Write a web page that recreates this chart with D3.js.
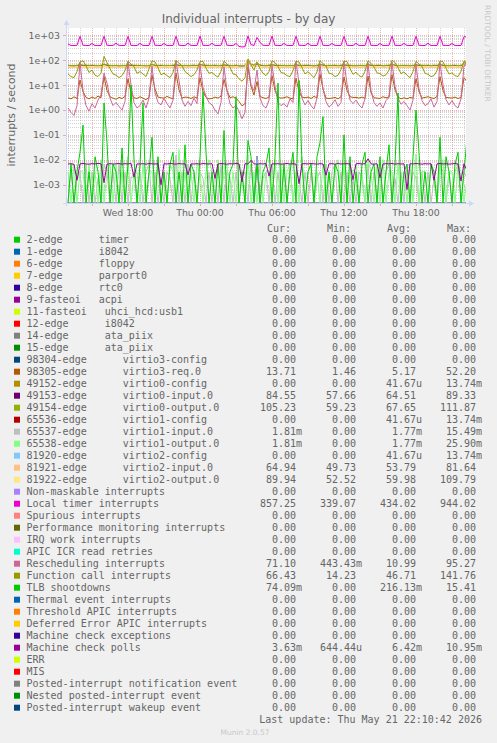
<!DOCTYPE html>
<html><head><meta charset="utf-8">
<script src="https://cdn.jsdelivr.net/npm/d3@7"></script>
<style>
body{margin:0;background:#F0F0F0;}
svg{display:block}
</style></head><body>
<svg id="c" width="497" height="743"></svg>
<script>
// ---------------- DATA ----------------
const legendLabels = [
 "2-edge      timer","1-edge      i8042","6-edge      floppy","7-edge      parport0","8-edge      rtc0",
 "9-fasteoi   acpi","11-fasteoi   uhci_hcd:usb1","12-edge      i8042","14-edge      ata_piix","15-edge      ata_piix",
 "98304-edge      virtio3-config","98305-edge      virtio3-req.0","49152-edge      virtio0-config","49153-edge      virtio0-input.0",
 "49154-edge      virtio0-output.0","65536-edge      virtio1-config","65537-edge      virtio1-input.0","65538-edge      virtio1-output.0",
 "81920-edge      virtio2-config","81921-edge      virtio2-input.0","81922-edge      virtio2-output.0",
 "Non-maskable interrupts","Local timer interrupts","Spurious interrupts","Performance monitoring interrupts",
 "IRQ work interrupts","APIC ICR read retries","Rescheduling interrupts","Function call interrupts","TLB shootdowns",
 "Thermal event interrupts","Threshold APIC interrupts","Deferred Error APIC interrupts","Machine check exceptions",
 "Machine check polls","ERR","MIS","Posted-interrupt notification event","Nested posted-interrupt event","Posted-interrupt wakeup event"
];
const legendColors = [
 "#00CC00","#0066B3","#FF8000","#FFCC00","#330099","#990099","#CCFF00","#FF0000","#808080","#008F00",
 "#00487D","#B35A00","#B38F00","#6B006B","#8FB300","#B30000","#BEBEBE","#80FF80","#80C9FF","#FFC080",
 "#FFE680","#AA80FF","#EE00CC","#FF8080","#666600","#FFBFFF","#00FFCC","#CC6699","#999900","#00CC00",
 "#0066B3","#FF8000","#FFCC00","#330099","#990099","#CCFF00","#FF0000","#808080","#008F00","#00487D"
];
const z = "0.00";
const curVals = [z,z,z,z,z,z,z,z,z,z,z,"13.71",z,"84.55","105.23",z,"1.81m","1.81m",z,"64.94","89.94",z,"857.25",z,z,z,z,"71.10","66.43","74.09m",z,z,z,z,"3.63m",z,z,z,z,z];
const minVals = [z,z,z,z,z,z,z,z,z,z,z,"1.46",z,"57.66","59.23",z,z,z,z,"49.73","52.52",z,"339.07",z,z,z,z,"443.43m","14.23",z,z,z,z,z,"644.44u",z,z,z,z,z];
const avgVals = [z,z,z,z,z,z,z,z,z,z,z,"5.17","41.67u","64.51","67.65","41.67u","1.77m","1.77m","41.67u","53.79","59.98",z,"434.02",z,z,z,z,"10.99","46.71","216.13m",z,z,z,z,"6.42m",z,z,z,z,z];
const maxVals = [z,z,z,z,z,z,z,z,z,z,z,"52.20","13.74m","89.33","111.87","13.74m","15.49m","25.90m","13.74m","81.64","109.79",z,"944.02",z,z,z,z,"95.27","141.76","15.41",z,z,z,z,"10.95m",z,z,z,z,z];

const yTickValues = [1e-3,1e-2,1e-1,1,10,100,1000];
const yTickLabels = ["1e-03","1e-02","1e-01","1e+00","1e+01","1e+02","1e+03"];

// samples every 15 minutes starting Wed 13:00
const localTimer = [
 450,392,388,395,905,398,390,388, 470,390,386,392,910,400,388,392, 480,395,390,388,900,395,387,390,
 475,392,388,390,905,398,392,388, 470,390,392,388,915,400,390,386, 480,395,388,392,920,398,390,392,
 478,392,390,395,910,400,388,390, 470,360,339.07,350,944,420,392,820, 520,398,390,392,925,398,390,388,
 475,392,388,390,915,400,392,390, 480,390,392,388,910,398,390,392, 470,395,388,392,905,400,388,390,
 478,392,390,388,915,395,392,388, 470,390,392,395,920,398,390,392, 475,392,388,390,910,400,388,390,
 480,390,392,388,905,398,392,390, 470,392,388,390,880,857.25
];
const rescheduling = [
 1.2,0.8,0.6,1.5,85,6,1.5,0.9, 1.8,1.2,2.5,4,30,12,3,1.5, 2,1.4,1,2.2,90,10,2,1.2,
 1.5,2.5,1.2,3,60,5,2,1.6, 3,1.8,1.2,2.5,95.27,15,2.5,1.4, 2.2,1.5,3,1.8,70,8,3.5,2,
 1.6,1,0.7,2,55,6,1.8,1.2, 1.5,0.9,0.443,0.8,80,10,6,40, 3,1.5,1.2,2.5,65,9,2,1.5,
 1.8,1.3,2.8,2,88,12,3,1.6, 2.4,1.5,1.1,3,72,7,2.2,1.3, 1.7,2.6,1.4,2,90,11,2.5,1.8,
 2.5,1.6,1.2,2.8,78,6,2,1.4, 1.9,1.2,2.4,3.2,85,9,3,1.7, 2.2,1.5,1,2.5,68,7,2.4,1.5,
 1.8,2.8,1.3,2.2,82,10,2.6,1.6, 2.4,1.5,1.2,2.8,60,71.1
];
const virtio3Req = [
 3.1,2.8,3.4,2.9,16,5.5,3.2,2.8, 3.3,2.9,3.6,3.1,22,6,3.4,3.0, 2.7,3.2,2.9,3.5,18,5,3.1,2.9,
 3.4,3.0,2.6,3.2,25,7,3.3,3.1, 3.0,3.5,3.1,2.8,30,6.5,3.0,3.3, 3.2,2.9,3.4,3.0,20,5.5,3.2,2.8,
 2.9,3.3,3.0,3.6,17,6,3.1,3.4, 3.0,2.2,1.46,1.8,52.2,9,4,14, 3.5,3.1,2.9,3.3,24,6,3.2,3.0,
 3.1,3.4,3.0,2.8,19,5.5,3.3,3.1, 3.3,2.9,3.5,3.1,27,7,3.0,2.9, 3.0,3.2,2.8,3.4,21,6,3.4,3.2,
 3.2,3.0,3.3,2.9,23,5,3.1,3.0, 2.9,3.4,3.1,3.3,26,6.5,3.3,2.8, 3.1,2.8,3.2,3.0,18,5.5,3.0,3.2,
 3.4,3.1,2.9,3.5,22,6,3.2,3.1, 3.0,3.3,2.9,3.2,20,13.71
];
const functionCall = [
 28,22,20,35,85,95,60,32, 40,25,22,30,141.76,80,45,28, 25,20,24,38,90,70,55,30,
 35,28,22,45,95,85,50,26, 30,24,20,32,100,75,60,35, 28,22,26,40,88,90,48,30,
 32,25,21,36,92,70,52,28, 26,18,14.23,20,110,65,40,85, 45,30,24,35,96,80,55,32,
 30,24,22,38,90,85,50,28, 35,26,20,34,98,72,58,30, 28,22,25,42,92,88,46,27,
 33,24,21,36,95,75,54,31, 29,23,26,40,100,82,50,29, 34,25,20,35,90,70,56,30,
 27,22,24,38,94,86,48,28, 31,24,22,36,92,66.43
];
const virtio0Input = [
 60,59,58,60,64,61,61,60, 61,60,59,61,66,62,60,59, 60,58,59,60,63,61,61,60,
 61,60,58,59,65,61,60,61, 60,59,60,61,64,61,59,60, 59,60,61,60,66,62,61,60,
 60,61,59,60,63,61,60,59, 61,58,57.66,58,89.33,66,62,70, 62,60,59,61,65,61,61,60,
 60,59,60,59,64,61,60,61, 61,60,58,60,66,62,59,60, 60,61,59,61,64,61,61,59,
 59,60,60,59,65,61,60,61, 61,59,60,61,66,62,59,60, 60,60,59,60,63,61,61,60,
 61,59,61,60,65,61,60,59, 60,61,59,60,70,84.55
];
const virtio0Output = [
 62,61,60,62,67,63,63,62, 63,62,61,62,70,64,62,61, 61,60,62,61,66,63,63,62,
 62,61,60,61,69,63,62,63, 61,62,61,63,67,63,61,62, 60,62,63,61,70,64,63,62,
 62,63,61,62,66,63,62,61, 63,60,59.23,60,111.87,70,64,80, 64,62,61,63,68,63,63,62,
 62,61,62,61,67,63,62,63, 63,62,60,62,70,64,61,62, 62,63,61,63,67,63,63,61,
 61,62,62,61,68,63,62,63, 63,61,62,63,69,64,61,62, 62,62,61,62,66,63,63,62,
 63,61,63,62,68,63,62,61, 62,63,61,62,78,105.23
];
const virtio2Input = [
 51,50.5,50,51,54,52,52,51, 52,51,50.5,51,55,52,51,50.5, 51,50,51,50.5,53,52,52,51,
 52,51,50,51,56,52,51,52, 51,51,52,51,54,52,50.5,51, 50.5,51,52,51,55,52,52,51,
 51,52,50.5,51,53,52,51,50.5, 52,50,49.73,50,81.64,58,53,60, 53,51,50.5,52,55,52,52,51,
 51,50.5,51,50.5,54,52,51,52, 52,51,50,51,56,52,50.5,51, 51,52,50.5,52,54,52,52,50.5,
 50.5,51,51,50.5,55,52,51,52, 52,50.5,51,52,56,52,50.5,51, 51,51,50.5,51,53,52,52,51,
 52,50.5,52,51,55,52,51,50.5, 51,52,50.5,51,58,64.94
];
const virtio2Output = [
 55,54,53.5,55,58,56,56,55, 56,55,54,55,60,56,55,54, 55,53.5,55,54,58,56,56,55,
 56,55,54,55,61,56,55,56, 55,55,56,54,59,56,54,55, 54,55,56,55,60,57,56,55,
 55,56,54,55,58,56,55,54, 56,53,52.52,53,109.79,64,57,75, 57,55,54,56,60,56,56,55,
 55,54,55,54,59,56,55,56, 56,55,53.5,55,61,57,54,55, 55,56,54,56,59,56,56,54,
 54,55,55,54,60,56,55,56, 56,54,55,56,61,57,54,55, 55,55,54,55,58,56,56,55,
 56,54,56,55,60,56,55,54, 55,56,54,55,68,89.94
];
const virtio1Input = [
 0,.0033,0,.0018,.0033,0,.0067,0, .0033,0,.0018,0,.0067,.0033,0,.0033, 0,.0067,0,.0033,0,.0018,.0033,0,
 .0033,0,.0033,.0067,0,.0033,0,.0018, 0,.0033,.0018,0,.0155,0,.0033,0, .0067,0,.0033,0,.0033,.0018,0,.0033,
 0,.0033,0,.0067,0,.0033,.0018,0, .0033,0,.0018,.0033,0,.0067,0,.0033, 0,.0018,.0033,0,.0067,0,.0033,0,
 .0033,0,.0067,0,.0033,.0018,0,.0033, 0,.0033,0,.0018,.0033,0,.0067,0, .0033,.0067,0,.0033,0,.0033,0,.0018,
 0,.0033,.0018,0,.0067,0,.0033,0, .0033,0,.0033,.0067,0,.0018,0,.0033, 0,.0067,0,.0033,.0018,0,.0033,0,
 .0033,0,.0018,0,.0067,.0033,0,.0033, 0,.0033,.0067,0,.0033,.0018
];
const virtio1Output = [
 .0033,0,.0067,0,.0033,.0033,0,.0067, 0,.0033,0,.0100,0,.0033,.0067,0, .0067,0,.0033,0,.0133,0,.0033,.0033,
 0,.0067,0,.0033,.0033,0,.0100,0, .0033,0,.0067,.0033,0,.0259,0,.0033, 0,.0033,0,.0067,.0033,0,.0033,.0100,
 .0033,0,.0100,0,.0033,.0067,0,.0033, 0,.0067,.0033,0,.0167,0,.0033,0, .0067,0,.0033,.0033,0,.0100,0,.0067,
 0,.0033,.0067,0,.0033,0,.0133,0, .0033,.0067,0,.0033,0,.0067,0,.0033, 0,.0033,.0100,0,.0067,0,.0033,.0033,
 .0067,0,.0033,0,.0100,.0033,0,.0067, 0,.0100,0,.0033,.0033,0,.0067,0, .0033,0,.0067,0,.0167,0,.0033,.0033,
 0,.0067,.0033,0,.0033,.0100,0,.0033, .0033,0,.0067,.0033,0,.0018
];
const tlbShootdowns = [
 0,.0067,0,.0033,.02,.25,0,.0033, 0,.0133,.0033,0,1.9,.05,0,.0067, .0033,0,.03,0,.0067,10,.01,0,
 .0067,1.9,0,.0033,.08,0,.0133,0, .0033,0,.0067,.02,0,.0033,0,.04, 0,.0067,.0033,0,.0133,5.4,.02,0,
 .0033,0,.0067,0,.15,0,.0033,.0067, 3.4,0,.0033,0,.06,.0133,0,.0067, 0,.0033,.0067,.03,0,.0133,12,0,
 .0067,0,.0033,.02,0,15.41,.0067,0, .0033,.0067,0,.0133,.05,.54,0,.0033, 0,.0067,.0033,0,.1,0,.0133,0,
 .0033,0,.0067,.02,0,.0033,.0067,0, .0133,0,.0033,.04,0,.0067,4.8,0, .0033,.0067,0,.0133,1.0,.02,0,.0033,
 0,.0067,.0033,0,.08,0,.0133,.0033, 0,.0067,.02,0,.0033,.0741
];
const machineCheckPolls = [
 .0068,.0070,.0066,.0015,.0069,.0071,.0068,.0067, .0070,.0068,.0072,.0069,.0012,.0067,.0070,.0068,
 .0069,.0071,.0067,.0070,.0068,.0072,.0020,.0069, .0068,.0070,.0067,.0071,.0069,.0068,.0070,.0010,
 .0070,.0068,.0072,.0069,.0067,.0071,.0068,.0070, .0025,.0069,.0068,.0070,.0067,.0071,.0069,.0068,
 .0070,.0018,.0068,.0071,.0069,.0067,.0070,.0068, .0072,.0069,.0013,.0070,.0068,.0095,.0069,.0067,
 .0070,.0068,.0071,.0022,.0069,.0068,.0070,.0067, .0069,.0071,.0068,.0070,.0067,.0011,.0069,.0070,
 .0068,.0071,.0069,.0067,.0070,.0068,.0024,.0069, .0070,.0067,.0071,.0068,.0069,.0070,.0068,.0016,
 .0069,.0071,.0068,.0070,.01095,.0069,.0067,.0070, .0019,.0068,.0070,.0069,.0071,.0067,.0070,.0068,
 .0069,.00064,.0070,.0068,.0071,.0069,.0067,.0070, .0068,.0070,.0015,.0069,.0071,.0068,.0070,.0067,
 .0069,.0071,.0068,.0014,.0070,.00363
];
// virtio*-config: single event at Thu 03:45
const virtioConfig = [
 0,0,0,0,0,0,0,0, 0,0,0,0,0,0,0,0, 0,0,0,0,0,0,0,0, 0,0,0,0,0,0,0,0,
 0,0,0,0,0,0,0,0, 0,0,0,0,0,0,0,0, 0,0,0,0,0,0,0,0, 0,0,0,0,0,0,0,.01374,
 0,0,0,0,0,0,0,0, 0,0,0,0,0,0,0,0, 0,0,0,0,0,0,0,0, 0,0,0,0,0,0,0,0,
 0,0,0,0,0,0,0,0, 0,0,0,0,0,0,0,0, 0,0,0,0,0,0,0,0, 0,0,0,0,0,0,0,0,
 0,0,0,0,0,0
];
// legend index -> sampled values (all-zero series are invisible on the log axis)
const seriesByIndex = new Map([
 [11, virtio3Req],[12, virtioConfig],[13, virtio0Input],[14, virtio0Output],[15, virtioConfig],
 [16, virtio1Input],[17, virtio1Output],[18, virtioConfig],[19, virtio2Input],[20, virtio2Output],
 [22, localTimer],[27, rescheduling],[28, functionCall],[29, tlbShootdowns],[34, machineCheckPolls]
]);

// ---------------- DRAW ----------------
const svg = d3.select("#c");
const P = {l:66, r:466, t:28, b:203};
const FONT = "DejaVu Sans, sans-serif", MONO = "DejaVu Sans Mono, monospace";
const TXT = "#666666";
const nb = s => s.replace(/ /g, "\u00A0");

const t0 = new Date(2026,4,20,12,50), t1 = new Date(2026,4,21,22,10);
const sampleStart = new Date(2026,4,20,13,0);
const times = d3.range(localTimer.length).map(i => new Date(+sampleStart + i*15*60000));
const x = d3.scaleTime().domain([t0,t1]).range([P.l,P.r]);
const y = d3.scaleLog().domain([1.84e-4,1964]).range([P.b,P.t]).clamp(true);

svg.append("rect").attr("width",497).attr("height",743).attr("fill","#F0F0F0");
svg.append("rect").attr("x",P.l).attr("y",P.t).attr("width",P.r-P.l).attr("height",P.b-P.t).attr("fill","#FFFFFF");

const GRID = "rgba(143,143,143,0.38)", MGRID = "rgba(222,79,79,0.42)";
const g = svg.append("g").attr("shape-rendering","crispEdges");
const [ymin,ymax] = y.domain();
for (let d=-4; d<=3; d++) for (let m=2; m<=9; m++) {
  const v = m*Math.pow(10,d);
  if (v<ymin || v>ymax) continue;
  const yy = Math.round(y(v))+0.5;
  g.append("line").attr("x1",P.l).attr("x2",P.r).attr("y1",yy).attr("y2",yy)
   .attr("stroke",GRID).attr("stroke-dasharray","1,1");
}
d3.timeHour.range(t0,t1).forEach(h => {
  const major = h.getHours()%3===0;
  const xx = Math.round(x(h))+0.5;
  g.append("line").attr("x1",xx).attr("x2",xx).attr("y1",P.t).attr("y2",P.b)
   .attr("stroke",major?MGRID:GRID).attr("stroke-dasharray","1,1");
  if (major) g.append("line").attr("x1",xx).attr("x2",xx).attr("y1",P.b).attr("y2",P.b+3).attr("stroke",MGRID);
});
yTickValues.forEach(v => {
  const yy = Math.round(y(v))+0.5;
  g.append("line").attr("x1",P.l).attr("x2",P.r).attr("y1",yy).attr("y2",yy).attr("stroke",MGRID).attr("stroke-dasharray","1,1");
  g.append("line").attr("x1",P.l-3).attr("x2",P.l).attr("y1",yy).attr("y2",yy).attr("stroke",MGRID);
});

svg.append("clipPath").attr("id","clip").append("rect").attr("x",P.l).attr("y",P.t).attr("width",P.r-P.l).attr("height",P.b-P.t+1);
const line = d3.line().x((d,i)=>x(times[i])).y(d => y(d>0 ? d : ymin));
const lines = svg.append("g").attr("clip-path","url(#clip)");
legendLabels.forEach((lab,i) => {
  const data = seriesByIndex.get(i);
  if (!data) return;
  lines.append("path").attr("d",line(data)).attr("fill","none").attr("stroke",legendColors[i]).attr("stroke-width",1);
});

const AX = "#CFD6F8";
svg.append("line").attr("x1",P.l+0.5).attr("x2",P.l+0.5).attr("y1",P.b+3).attr("y2",P.t-5).attr("stroke",AX);
svg.append("line").attr("x1",P.l-3).attr("x2",P.r+4).attr("y1",P.b+0.5).attr("y2",P.b+0.5).attr("stroke",AX);
svg.append("path").attr("d",`M${P.l-2.5},${P.t-3}L${P.l+0.5},${P.t-8}L${P.l+3.5},${P.t-3}Z`).attr("fill",AX);
svg.append("path").attr("d",`M${P.r+3},${P.b-2.5}L${P.r+8},${P.b+0.5}L${P.r+3},${P.b+3.5}Z`).attr("fill",AX);

yTickValues.forEach((v,i) => {
  svg.append("text").attr("x",60).attr("y",y(v)+3.5).attr("text-anchor","end")
   .attr("font-family",FONT).attr("font-size",9.4).attr("fill",TXT).text(yTickLabels[i]);
});
const fmt = d3.timeFormat("%a %H:%M");
d3.timeHour.range(t0,t1).filter(h => h.getHours()%6===0).forEach(h => {
  svg.append("text").attr("x",x(h)).attr("y",216).attr("text-anchor","middle")
   .attr("font-family",FONT).attr("font-size",9.4).attr("fill",TXT).text(fmt(h));
});

svg.append("text").attr("x",248.5).attr("y",23).attr("text-anchor","middle").attr("font-family",FONT)
  .attr("font-size",12).attr("fill",TXT).text("Individual interrupts - by day");
svg.append("text").attr("transform","translate(15,115) rotate(-90)").attr("text-anchor","middle")
  .attr("font-family",FONT).attr("font-size",10.9).attr("fill",TXT).text("interrupts / second");
svg.append("text").attr("transform","translate(485,5) rotate(90)").attr("text-anchor","start")
  .attr("font-family",FONT).attr("font-size",7.5).attr("fill","#C8C8C8").text("RRDTOOL / TOBI OETIKER");

const mono = (sel) => sel.attr("font-family",MONO).attr("font-size",10).attr("fill",TXT);
[["Cur:",267],["Min:",327],["Avg:",387],["Max:",447]].forEach(([s,xx]) =>
  mono(svg.append("text").attr("x",xx).attr("y",231.5)).text(s));
const colRight = [296,356,416,476];
const splitVal = s => { const m = s.match(/^([\d.]+)([a-zA-Z]?)$/); return [m[1], m[2]]; };
legendLabels.forEach((lab,i) => {
  const cy = 239.7 + 12*i;
  svg.append("rect").attr("x",14).attr("y",cy-3).attr("width",6).attr("height",6).attr("fill",legendColors[i]);
  mono(svg.append("text").attr("x",26.5).attr("y",cy+3.5)).text(nb(lab));
  [curVals[i],minVals[i],avgVals[i],maxVals[i]].forEach((val,c) => {
    const [num,unit] = splitVal(val);
    mono(svg.append("text").attr("x",colRight[c]).attr("y",cy+3.5).attr("text-anchor","end")).text(num);
    if (unit) mono(svg.append("text").attr("x",colRight[c]).attr("y",cy+3.5)).text(unit);
  });
});
mono(svg.append("text").attr("x",482).attr("y",722.5).attr("text-anchor","end")).text("Last update: Thu May 21 22:10:42 2026");
svg.append("text").attr("x",245).attr("y",735).attr("text-anchor","middle").attr("font-family",FONT)
  .attr("font-size",7.5).attr("fill","#C8C8C8").text("Munin 2.0.57");
</script></body></html>
